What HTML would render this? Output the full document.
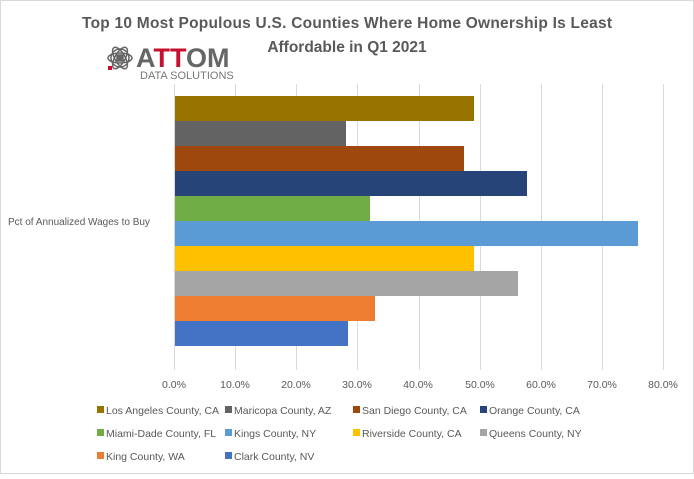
<!DOCTYPE html>
<html><head><style>
body{margin:0;background:#fff;}
svg text{font-family:"Liberation Sans",sans-serif;}
</style></head><body>
<svg width="694" height="474" xmlns="http://www.w3.org/2000/svg">
<rect x="0.5" y="0.5" width="693" height="473" fill="#fff" stroke="#d9d9d9"/>
<text x="347" y="28" text-anchor="middle" font-size="15.5" font-weight="bold" fill="#595959" textLength="530">Top 10 Most Populous U.S. Counties Where Home Ownership Is Least</text>
<text x="347" y="52" text-anchor="middle" font-size="15.5" font-weight="bold" fill="#595959">Affordable in Q1 2021</text>
<g transform="translate(120,58)" stroke="#666" fill="none" stroke-width="1.5">
<circle cx="0" cy="0" r="9"/><ellipse cx="0" cy="0" rx="12" ry="5"/><ellipse cx="0" cy="0" rx="12" ry="5" transform="rotate(60)"/><ellipse cx="0" cy="0" rx="12" ry="5" transform="rotate(-60)"/>
<rect x="-3" y="-3" width="6" height="6" fill="#666"/>
</g>
<rect x="108" y="66" width="4" height="4" fill="#c8102e"/>
<text x="136" y="67" font-size="27" font-weight="bold" fill="#666">A<tspan fill="#c8102e">TT</tspan>OM</text>
<text x="140" y="79" font-size="11" fill="#777">DATA SOLUTIONS</text>
<g stroke="#d9d9d9" stroke-width="1">
<line x1="174.5" y1="84" x2="174.5" y2="370"/>
<line x1="235.5" y1="84" x2="235.5" y2="370"/>
<line x1="296.5" y1="84" x2="296.5" y2="370"/>
<line x1="357.5" y1="84" x2="357.5" y2="370"/>
<line x1="419.5" y1="84" x2="419.5" y2="370"/>
<line x1="480.5" y1="84" x2="480.5" y2="370"/>
<line x1="541.5" y1="84" x2="541.5" y2="370"/>
<line x1="602.5" y1="84" x2="602.5" y2="370"/>
<line x1="663.5" y1="84" x2="663.5" y2="370"/>
</g>
<g>
<rect x="175" y="96" width="299" height="25" fill="#997300"/>
<rect x="175" y="121" width="171" height="25" fill="#636363"/>
<rect x="175" y="146" width="289" height="25" fill="#9E480E"/>
<rect x="175" y="171" width="352" height="25" fill="#264478"/>
<rect x="175" y="196" width="195" height="25" fill="#70AD47"/>
<rect x="175" y="221" width="463" height="25" fill="#5B9BD5"/>
<rect x="175" y="246" width="299" height="25" fill="#FFC000"/>
<rect x="175" y="271" width="343" height="25" fill="#A5A5A5"/>
<rect x="175" y="296" width="200" height="25" fill="#ED7D31"/>
<rect x="175" y="321" width="173" height="25" fill="#4472C4"/>
</g>
<text x="8" y="225" font-size="10" fill="#595959">Pct of Annualized Wages to Buy</text>
<g font-size="10.5" fill="#595959" text-anchor="middle">
<text x="174" y="388">0.0%</text><text x="235" y="388">10.0%</text><text x="296" y="388">20.0%</text><text x="357" y="388">30.0%</text><text x="418" y="388">40.0%</text><text x="480" y="388">50.0%</text><text x="541" y="388">60.0%</text><text x="602" y="388">70.0%</text><text x="663" y="388">80.0%</text>
</g>
<g font-size="10.5" fill="#595959">
<rect x="97" y="406" width="7" height="7" fill="#997300"/><text x="106" y="414">Los Angeles County, CA</text>
<rect x="225" y="406" width="7" height="7" fill="#636363"/><text x="234" y="414">Maricopa County, AZ</text>
<rect x="353" y="406" width="7" height="7" fill="#9E480E"/><text x="362" y="414">San Diego County, CA</text>
<rect x="480" y="406" width="7" height="7" fill="#264478"/><text x="489" y="414">Orange County, CA</text>
<rect x="97" y="429" width="7" height="7" fill="#70AD47"/><text x="106" y="437">Miami-Dade County, FL</text>
<rect x="225" y="429" width="7" height="7" fill="#5B9BD5"/><text x="234" y="437">Kings County, NY</text>
<rect x="353" y="429" width="7" height="7" fill="#FFC000"/><text x="362" y="437">Riverside County, CA</text>
<rect x="480" y="429" width="7" height="7" fill="#A5A5A5"/><text x="489" y="437">Queens County, NY</text>
<rect x="97" y="452" width="7" height="7" fill="#ED7D31"/><text x="106" y="460">King County, WA</text>
<rect x="225" y="452" width="7" height="7" fill="#4472C4"/><text x="234" y="460">Clark County, NV</text>
</g>
</svg>
</body></html>
